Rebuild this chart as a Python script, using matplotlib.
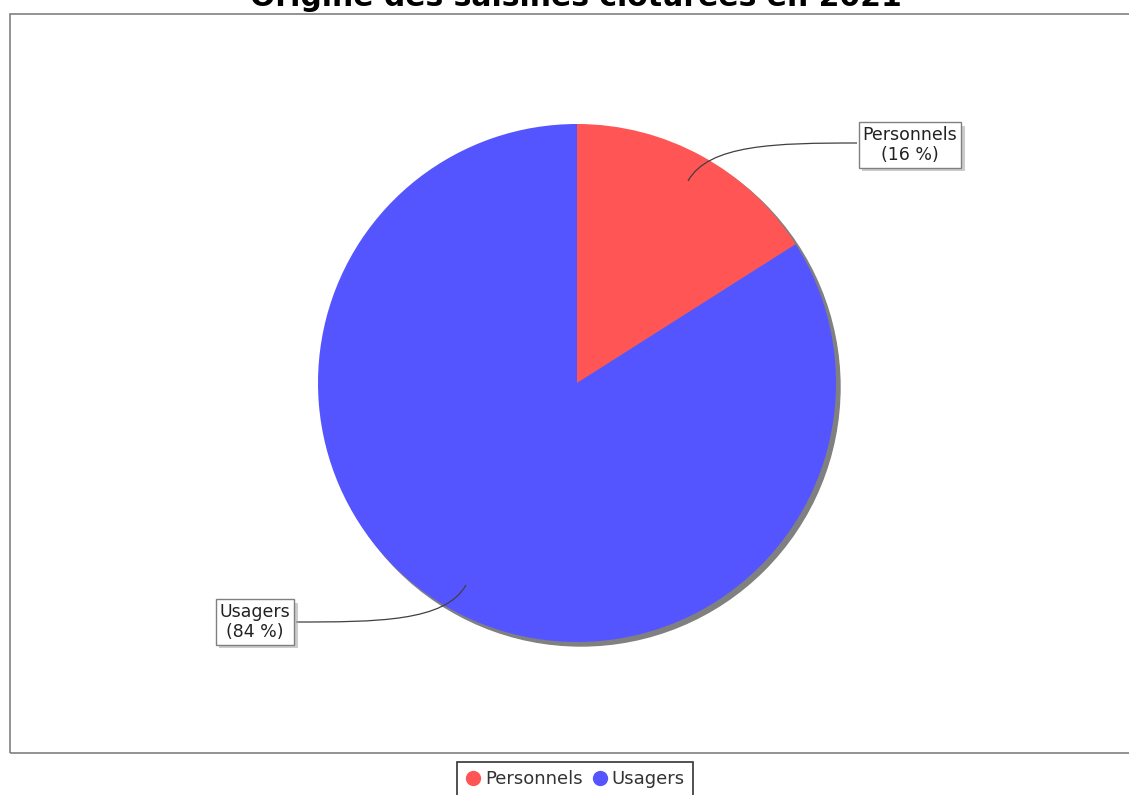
import numpy as np
import matplotlib
matplotlib.use("Agg")
import matplotlib.pyplot as plt
from matplotlib.path import Path
from matplotlib.patches import PathPatch, Circle, Rectangle
from matplotlib.lines import Line2D
import matplotlib.patheffects as pe

title = "Origine des saisines clôturées en 2021"
categories = ["Personnels", "Usagers"]
shares = [16, 84]
colors = ["#FF5555", "#5555FF"]

W, H = 1129, 795
fig = plt.figure(figsize=(W / 100, H / 100), dpi=100)
ax = fig.add_axes([0, 0, 1, 1])

# pixel-style helper: y measured from the top
def py(y):
    return H - y

cx, cy, R = 577, py(383), 259

# drop shadow under the pie
ax.add_patch(Circle((cx + 4, cy - 4), R, color="#808080", zorder=2))

ax.pie(shares, colors=colors, startangle=90, counterclock=False,
       center=(cx, cy), radius=R, frame=True,
       wedgeprops=dict(linewidth=0, zorder=3))
ax.set_xlim(0, W)
ax.set_ylim(0, H)
ax.set_aspect("equal")
ax.axis("off")

# plot frame
ax.add_patch(Rectangle((10, py(753)), W, 753 - 14, fill=False,
                       edgecolor="#808080", lw=1.2, zorder=1))

# label boxes and curved leader lines
anchors = [(857, py(143)), (296, py(622))]
box_centers = [(910, py(145)), (255, py(622))]
start = 90.0
for name, val, anc, bc in zip(categories, shares, anchors, box_centers):
    sweep = 360.0 * val / sum(shares)
    mid = np.deg2rad(start - sweep / 2)
    start -= sweep
    d = np.array([np.cos(mid), np.sin(mid)])
    p0 = np.array([cx, cy]) + 0.89 * R * d
    p1 = p0 + 42 * d
    side = 1 if anc[0] > cx else -1
    p2 = (anc[0] - side * 80, anc[1])
    path = Path([p0, p1, p2, anc],
                [Path.MOVETO, Path.CURVE4, Path.CURVE4, Path.CURVE4])
    ax.add_patch(PathPatch(path, fill=False, edgecolor="#404040",
                           lw=0.9, zorder=4))
    t = ax.text(bc[0], bc[1], f"{name}\n({val} %)", ha="center", va="center",
                ma="center", fontsize=12.5, color="#222222", linespacing=1.1,
                zorder=5,
                bbox=dict(boxstyle="square,pad=0.22", facecolor="white",
                          edgecolor="#808080", lw=1.0))
    t.get_bbox_patch().set_path_effects(
        [pe.SimplePatchShadow(offset=(2.5, -2.5), shadow_rgbFace="#aaaaaa",
                              alpha=0.6), pe.Normal()])

# title clipped at the top edge
ax.text(576, py(6), title, ha="center", va="baseline", fontsize=21.5,
        fontweight="bold", color="black", clip_on=False)

handles = [Line2D([], [], ls="none", marker="o", markersize=10,
                  markerfacecolor=c, markeredgecolor=c) for c in colors]
leg = fig.legend(handles, categories, loc="upper center",
                 bbox_to_anchor=(575 / W, 1 - 762 / H), ncol=2,
                 frameon=True, fancybox=False, edgecolor="black",
                 fontsize=13, handletextpad=0.2, columnspacing=0.5,
                 handlelength=0.9, borderpad=0.45, borderaxespad=0,
                 labelcolor="#333333")
leg.get_frame().set_linewidth(1.2)

fig.savefig("out.png", dpi=100)
